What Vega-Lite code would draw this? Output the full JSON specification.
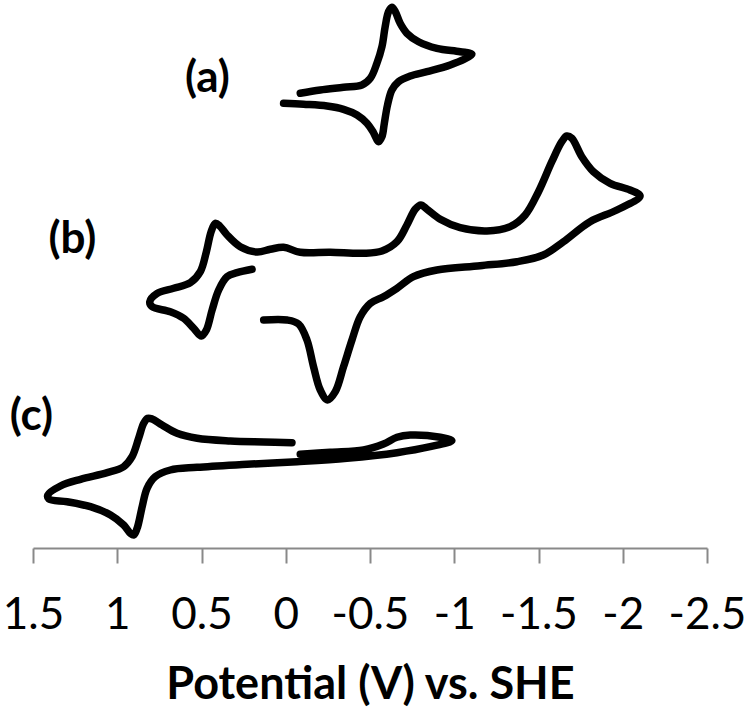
{
  "$schema": "https://vega.github.io/schema/vega-lite/v6.json",
  "width": 674,
  "height": 548,
  "autosize": {"type": "none"},
  "padding": {"left": 33, "top": 0, "right": 43, "bottom": 165},
  "background": "white",
  "config": {"view": {"stroke": null}},
  "datasets": {
    "curves": [
      {"c":"a","i":1,"E":0.013,"I":44.47},{"c":"a","i":2,"E":-0.106,"I":44.37},{"c":"a","i":3,"E":-0.245,"I":44.2},{"c":"a","i":4,"E":-0.343,"I":43.87},{"c":"a","i":5,"E":-0.423,"I":43.3},{"c":"a","i":6,"E":-0.482,"I":42.47},{"c":"a","i":7,"E":-0.521,"I":41.53},{"c":"a","i":8,"E":-0.551,"I":40.63},{"c":"a","i":9,"E":-0.571,"I":41.13},{"c":"a","i":10,"E":-0.585,"I":42.47},{"c":"a","i":11,"E":-0.604,"I":44.3},{"c":"a","i":12,"E":-0.63,"I":45.8},{"c":"a","i":13,"E":-0.669,"I":46.63},{"c":"a","i":14,"E":-0.739,"I":47.2},{"c":"a","i":15,"E":-0.838,"I":47.63},{"c":"a","i":16,"E":-0.976,"I":48.3},{"c":"a","i":17,"E":-1.105,"I":49.37},{"c":"a","i":18,"E":-1.035,"I":49.63},{"c":"a","i":19,"E":-0.897,"I":49.97},{"c":"a","i":20,"E":-0.788,"I":50.63},{"c":"a","i":21,"E":-0.719,"I":51.47},{"c":"a","i":22,"E":-0.679,"I":52.47},{"c":"a","i":23,"E":-0.65,"I":53.63},{"c":"a","i":24,"E":-0.63,"I":54.07},{"c":"a","i":25,"E":-0.61,"I":53.63},{"c":"a","i":26,"E":-0.59,"I":52.13},{"c":"a","i":27,"E":-0.571,"I":50.13},{"c":"a","i":28,"E":-0.541,"I":48.47},{"c":"a","i":29,"E":-0.502,"I":46.97},{"c":"a","i":30,"E":-0.452,"I":46.3},{"c":"a","i":31,"E":-0.343,"I":46.07},{"c":"a","i":32,"E":-0.205,"I":45.8},{"c":"a","i":33,"E":-0.086,"I":45.47},
      {"c":"b","i":1,"E":0.131,"I":22.8},{"c":"b","i":2,"E":-0.008,"I":22.8},{"c":"b","i":3,"E":-0.076,"I":22.4},{"c":"b","i":4,"E":-0.126,"I":20.8},{"c":"b","i":5,"E":-0.165,"I":18.13},{"c":"b","i":6,"E":-0.205,"I":15.8},{"c":"b","i":7,"E":-0.248,"I":14.8},{"c":"b","i":8,"E":-0.294,"I":15.63},{"c":"b","i":9,"E":-0.343,"I":18.13},{"c":"b","i":10,"E":-0.393,"I":20.8},{"c":"b","i":11,"E":-0.442,"I":23.13},{"c":"b","i":12,"E":-0.502,"I":24.47},{"c":"b","i":13,"E":-0.58,"I":25.13},{"c":"b","i":14,"E":-0.66,"I":25.97},{"c":"b","i":15,"E":-0.758,"I":27.13},{"c":"b","i":16,"E":-0.897,"I":27.8},{"c":"b","i":17,"E":-1.154,"I":28.23},{"c":"b","i":18,"E":-1.372,"I":28.63},{"c":"b","i":19,"E":-1.529,"I":29.3},{"c":"b","i":20,"E":-1.648,"I":30.63},{"c":"b","i":21,"E":-1.806,"I":32.63},{"c":"b","i":22,"E":-1.965,"I":33.8},{"c":"b","i":23,"E":-2.103,"I":35.2},{"c":"b","i":24,"E":-2.043,"I":35.8},{"c":"b","i":25,"E":-1.925,"I":36.47},{"c":"b","i":26,"E":-1.826,"I":37.63},{"c":"b","i":27,"E":-1.757,"I":39.13},{"c":"b","i":28,"E":-1.698,"I":40.97},{"c":"b","i":29,"E":-1.668,"I":41.2},{"c":"b","i":30,"E":-1.638,"I":40.63},{"c":"b","i":31,"E":-1.579,"I":38.63},{"c":"b","i":32,"E":-1.5,"I":35.63},{"c":"b","i":33,"E":-1.421,"I":33.3},{"c":"b","i":34,"E":-1.332,"I":32.13},{"c":"b","i":35,"E":-1.194,"I":31.7},{"c":"b","i":36,"E":-1.035,"I":32.03},{"c":"b","i":37,"E":-0.917,"I":32.87},{"c":"b","i":38,"E":-0.838,"I":33.87},{"c":"b","i":39,"E":-0.802,"I":34.3},{"c":"b","i":40,"E":-0.768,"I":33.87},{"c":"b","i":41,"E":-0.719,"I":32.3},{"c":"b","i":42,"E":-0.66,"I":30.63},{"c":"b","i":43,"E":-0.571,"I":29.7},{"c":"b","i":44,"E":-0.462,"I":29.47},{"c":"b","i":45,"E":-0.264,"I":29.57},{"c":"b","i":46,"E":-0.086,"I":29.57},{"c":"b","i":47,"E":0.013,"I":30.07},{"c":"b","i":48,"E":0.092,"I":29.87},{"c":"b","i":49,"E":0.17,"I":29.6},{"c":"b","i":50,"E":0.27,"I":30.13},{"c":"b","i":51,"E":0.348,"I":31.3},{"c":"b","i":52,"E":0.392,"I":32.2},{"c":"b","i":53,"E":0.418,"I":32.47},{"c":"b","i":54,"E":0.443,"I":31.63},{"c":"b","i":55,"E":0.471,"I":29.63},{"c":"b","i":56,"E":0.507,"I":27.63},{"c":"b","i":57,"E":0.566,"I":26.53},{"c":"b","i":58,"E":0.665,"I":25.97},{"c":"b","i":59,"E":0.763,"I":25.47},{"c":"b","i":60,"E":0.807,"I":24.63},{"c":"b","i":61,"E":0.793,"I":24.13},{"c":"b","i":62,"E":0.685,"I":23.63},{"c":"b","i":63,"E":0.606,"I":22.97},{"c":"b","i":64,"E":0.546,"I":21.97},{"c":"b","i":65,"E":0.501,"I":21.2},{"c":"b","i":66,"E":0.471,"I":21.8},{"c":"b","i":67,"E":0.437,"I":23.8},{"c":"b","i":68,"E":0.398,"I":25.8},{"c":"b","i":69,"E":0.348,"I":27.13},{"c":"b","i":70,"E":0.289,"I":27.53},{"c":"b","i":71,"E":0.2,"I":27.87},
      {"c":"c","i":1,"E":-0.037,"I":10.53},{"c":"c","i":2,"E":0.131,"I":10.6},{"c":"c","i":3,"E":0.329,"I":10.7},{"c":"c","i":4,"E":0.526,"I":10.97},{"c":"c","i":5,"E":0.645,"I":11.47},{"c":"c","i":6,"E":0.734,"I":12.3},{"c":"c","i":7,"E":0.793,"I":12.9},{"c":"c","i":8,"E":0.819,"I":12.97},{"c":"c","i":9,"E":0.843,"I":12.47},{"c":"c","i":10,"E":0.873,"I":10.97},{"c":"c","i":11,"E":0.912,"I":9.13},{"c":"c","i":12,"E":0.962,"I":8.13},{"c":"c","i":13,"E":1.06,"I":7.53},{"c":"c","i":14,"E":1.218,"I":6.87},{"c":"c","i":15,"E":1.337,"I":6.2},{"c":"c","i":16,"E":1.412,"I":5.3},{"c":"c","i":17,"E":1.406,"I":4.9},{"c":"c","i":18,"E":1.297,"I":4.63},{"c":"c","i":19,"E":1.159,"I":4.13},{"c":"c","i":20,"E":1.04,"I":3.3},{"c":"c","i":21,"E":0.962,"I":2.3},{"c":"c","i":22,"E":0.922,"I":1.47},{"c":"c","i":23,"E":0.902,"I":1.3},{"c":"c","i":24,"E":0.882,"I":1.97},{"c":"c","i":25,"E":0.852,"I":4.13},{"c":"c","i":26,"E":0.823,"I":5.97},{"c":"c","i":27,"E":0.774,"I":7.13},{"c":"c","i":28,"E":0.685,"I":7.8},{"c":"c","i":29,"E":0.526,"I":8.07},{"c":"c","i":30,"E":0.23,"I":8.37},{"c":"c","i":31,"E":-0.067,"I":8.63},{"c":"c","i":32,"E":-0.363,"I":8.97},{"c":"c","i":33,"E":-0.66,"I":9.53},{"c":"c","i":34,"E":-0.857,"I":10.13},{"c":"c","i":35,"E":-0.986,"I":10.73},{"c":"c","i":36,"E":-0.917,"I":11.07},{"c":"c","i":37,"E":-0.739,"I":11.3},{"c":"c","i":38,"E":-0.66,"I":11.07},{"c":"c","i":39,"E":-0.58,"I":10.4},{"c":"c","i":40,"E":-0.462,"I":9.8},{"c":"c","i":41,"E":-0.264,"I":9.57},{"c":"c","i":42,"E":-0.086,"I":9.37}
    ],
    "labels": [
      {"E":0.465,"I":46.9,"label":"(a)"},
      {"E":1.266,"I":30.8,"label":"(b)"},
      {"E":1.509,"I":13.1,"label":"(c)"}
    ]
  },
  "layer": [
    {
      "data": {"name": "curves"},
      "mark": {"type": "line", "stroke": "black", "strokeWidth": 7.5, "strokeCap": "round", "strokeJoin": "round", "interpolate": "catmull-rom"},
      "encoding": {
        "x": {
          "field": "E", "type": "quantitative",
          "scale": {"domain": [-2.5, 1.5], "reverse": true, "nice": false, "zero": false},
          "axis": {
            "values": [1.5, 1, 0.5, 0, -0.5, -1, -1.5, -2, -2.5],
            "labelExpr": "datum.value < 0 ? '-' + format(-datum.value, '~g') : format(datum.value, '~g')",
            "grid": false,
            "domainColor": "#898989", "domainWidth": 2,
            "tickColor": "#898989", "tickWidth": 2, "tickSize": 15,
            "labelFont": "Lato", "labelFontSize": 44, "labelColor": "black",
            "labelPadding": 30, "labelFlush": false, "labelOverlap": false,
            "title": "Potential (V) vs. SHE",
            "titleFont": "Lato", "titleFontSize": 45, "titleFontWeight": "bold", "titleColor": "black",
            "titleBaseline": "alphabetic", "titleY": 150
          }
        },
        "y": {
          "field": "I", "type": "quantitative",
          "scale": {"domain": [0, 54.8], "nice": false, "zero": false},
          "axis": null
        },
        "detail": {"field": "c"},
        "order": {"field": "i", "type": "quantitative"}
      }
    },
    {
      "data": {"name": "labels"},
      "mark": {"type": "text", "font": "Lato", "fontSize": 44, "fontWeight": "bold", "color": "black", "align": "center", "baseline": "middle"},
      "encoding": {
        "x": {"field": "E", "type": "quantitative"},
        "y": {"field": "I", "type": "quantitative"},
        "text": {"field": "label"}
      }
    }
  ]
}
